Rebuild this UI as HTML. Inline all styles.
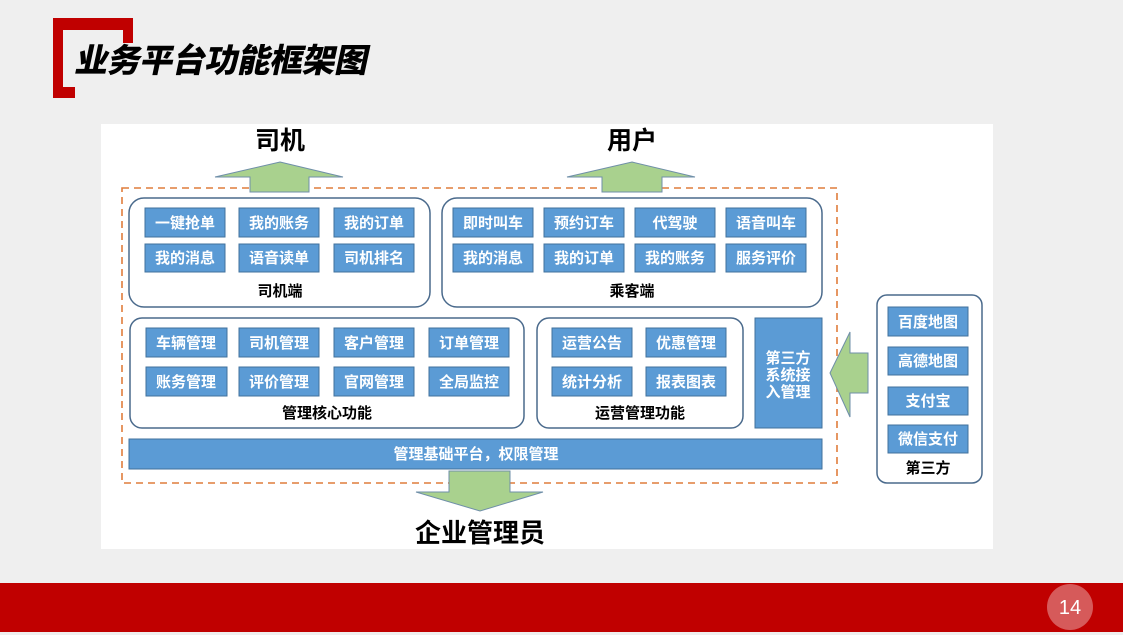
<!DOCTYPE html>
<html><head><meta charset="utf-8">
<style>
html,body{margin:0;padding:0;background:#efefef;}
body{width:1123px;height:635px;overflow:hidden;position:relative;}
svg{position:absolute;left:0;top:0;}
text{font-family:"Liberation Sans","Noto Sans CJK SC",sans-serif;}
</style></head>
<body>
<svg width="1123" height="635" viewBox="0 0 1123 635" xmlns="http://www.w3.org/2000/svg">
  <rect x="0" y="0" width="1123" height="635" fill="#efefef"/>
  <!-- title bracket -->
  <path d="M53,18 H133 V43 H123 V30 H63 V87 H75 V98 H53 Z" fill="#c00000"/>
  <g transform="translate(74,72) skewX(-12)">
    <text x="0" y="0" font-size="33" font-weight="900" fill="#000" letter-spacing="-0.5">业务平台功能框架图</text>
  </g>
  <!-- white panel -->
  <rect x="101" y="124" width="892" height="425" fill="#ffffff"/>
  <!-- bottom bar -->
  <rect x="0" y="583" width="1123" height="49" fill="#c00000"/>
  <circle cx="1070" cy="607" r="23" fill="#d65a5a"/>
  <text x="1070" y="614" font-size="20" fill="#fff" text-anchor="middle" font-family="Liberation Sans, sans-serif">14</text>

  <!-- dashed frame -->
  <rect x="122" y="188" width="715" height="295" fill="none" stroke="#df7d3c" stroke-width="1.6" stroke-dasharray="7,5"/>

  <!-- top labels -->
  <text x="280" y="149" font-size="25" font-weight="bold" text-anchor="middle" fill="#000">司机</text>
  <text x="632" y="149" font-size="25" font-weight="bold" text-anchor="middle" fill="#000">用户</text>

  <g fill="#a9d18e" stroke="#6f8fa8" stroke-width="1">
    <polygon points="280,162 343,177 309,177 309,192 250,192 250,177 215,177"/>
    <polygon points="632,162 695,177 662,177 662,192 602,192 602,177 567,177"/>
    <polygon points="449,471 510,471 510,492 543,492 480,511 416,492 449,492"/>
    <polygon points="830,373 850,332 850,353 868,353 868,393 850,393 850,417"/>
  </g>

  <!-- rounded group boxes -->
  <g fill="#fff" stroke="#4a6a8c" stroke-width="1.5">
    <rect x="129" y="198" width="301" height="109" rx="15"/>
    <rect x="442" y="198" width="380" height="109" rx="15"/>
    <rect x="130" y="318" width="394" height="110" rx="12"/>
    <rect x="537" y="318" width="206" height="110" rx="12"/>
    <rect x="877" y="295" width="105" height="188" rx="10"/>
  </g>

  <!-- buttons -->
  <g fill="#5b9bd5" stroke="#41719c" stroke-width="1">
    <rect x="145" y="208" width="80" height="29"/>
    <rect x="239" y="208" width="80" height="29"/>
    <rect x="334" y="208" width="80" height="29"/>
    <rect x="145" y="244" width="80" height="28"/>
    <rect x="239" y="244" width="80" height="28"/>
    <rect x="334" y="244" width="80" height="28"/>

    <rect x="453" y="208" width="80" height="29"/>
    <rect x="544" y="208" width="80" height="29"/>
    <rect x="635" y="208" width="80" height="29"/>
    <rect x="726" y="208" width="80" height="29"/>
    <rect x="453" y="244" width="80" height="28"/>
    <rect x="544" y="244" width="80" height="28"/>
    <rect x="635" y="244" width="80" height="28"/>
    <rect x="726" y="244" width="80" height="28"/>

    <rect x="146" y="328" width="81" height="29"/>
    <rect x="239" y="328" width="80" height="29"/>
    <rect x="334" y="328" width="80" height="29"/>
    <rect x="429" y="328" width="80" height="29"/>
    <rect x="146" y="367" width="81" height="29"/>
    <rect x="239" y="367" width="80" height="29"/>
    <rect x="334" y="367" width="80" height="29"/>
    <rect x="429" y="367" width="80" height="29"/>

    <rect x="552" y="328" width="80" height="29"/>
    <rect x="646" y="328" width="80" height="29"/>
    <rect x="552" y="367" width="80" height="29"/>
    <rect x="646" y="367" width="80" height="29"/>

    <rect x="755" y="318" width="67" height="110"/>
    <rect x="129" y="439" width="693" height="30"/>

    <rect x="888" y="307" width="80" height="29"/>
    <rect x="888" y="347" width="80" height="28"/>
    <rect x="888" y="387" width="80" height="28"/>
    <rect x="888" y="425" width="80" height="28"/>
  </g>

  <g font-size="15" font-weight="bold" fill="#fff" text-anchor="middle">
    <text x="185" y="228">一键抢单</text>
    <text x="279" y="228">我的账务</text>
    <text x="374" y="228">我的订单</text>
    <text x="185" y="263">我的消息</text>
    <text x="279" y="263">语音读单</text>
    <text x="374" y="263">司机排名</text>

    <text x="493" y="228">即时叫车</text>
    <text x="584" y="228">预约订车</text>
    <text x="675" y="228">代驾驶</text>
    <text x="766" y="228">语音叫车</text>
    <text x="493" y="263">我的消息</text>
    <text x="584" y="263">我的订单</text>
    <text x="675" y="263">我的账务</text>
    <text x="766" y="263">服务评价</text>

    <text x="186" y="348">车辆管理</text>
    <text x="279" y="348">司机管理</text>
    <text x="374" y="348">客户管理</text>
    <text x="469" y="348">订单管理</text>
    <text x="186" y="387">账务管理</text>
    <text x="279" y="387">评价管理</text>
    <text x="374" y="387">官网管理</text>
    <text x="469" y="387">全局监控</text>

    <text x="592" y="348">运营公告</text>
    <text x="686" y="348">优惠管理</text>
    <text x="592" y="387">统计分析</text>
    <text x="686" y="387">报表图表</text>

    <text x="788" y="363">第三方</text>
    <text x="788" y="380">系统接</text>
    <text x="788" y="397">入管理</text>

    <text x="476" y="459">管理基础平台，权限管理</text>

    <text x="928" y="327">百度地图</text>
    <text x="928" y="366">高德地图</text>
    <text x="928" y="406">支付宝</text>
    <text x="928" y="444">微信支付</text>
  </g>

  <g font-size="15" font-weight="bold" fill="#000" text-anchor="middle">
    <text x="280" y="296">司机端</text>
    <text x="632" y="296">乘客端</text>
    <text x="327" y="418">管理核心功能</text>
    <text x="640" y="418">运营管理功能</text>
    <text x="928" y="473">第三方</text>
  </g>

  <text x="480" y="542" font-size="26" font-weight="bold" text-anchor="middle" fill="#000">企业管理员</text>
</svg>
</body></html>
